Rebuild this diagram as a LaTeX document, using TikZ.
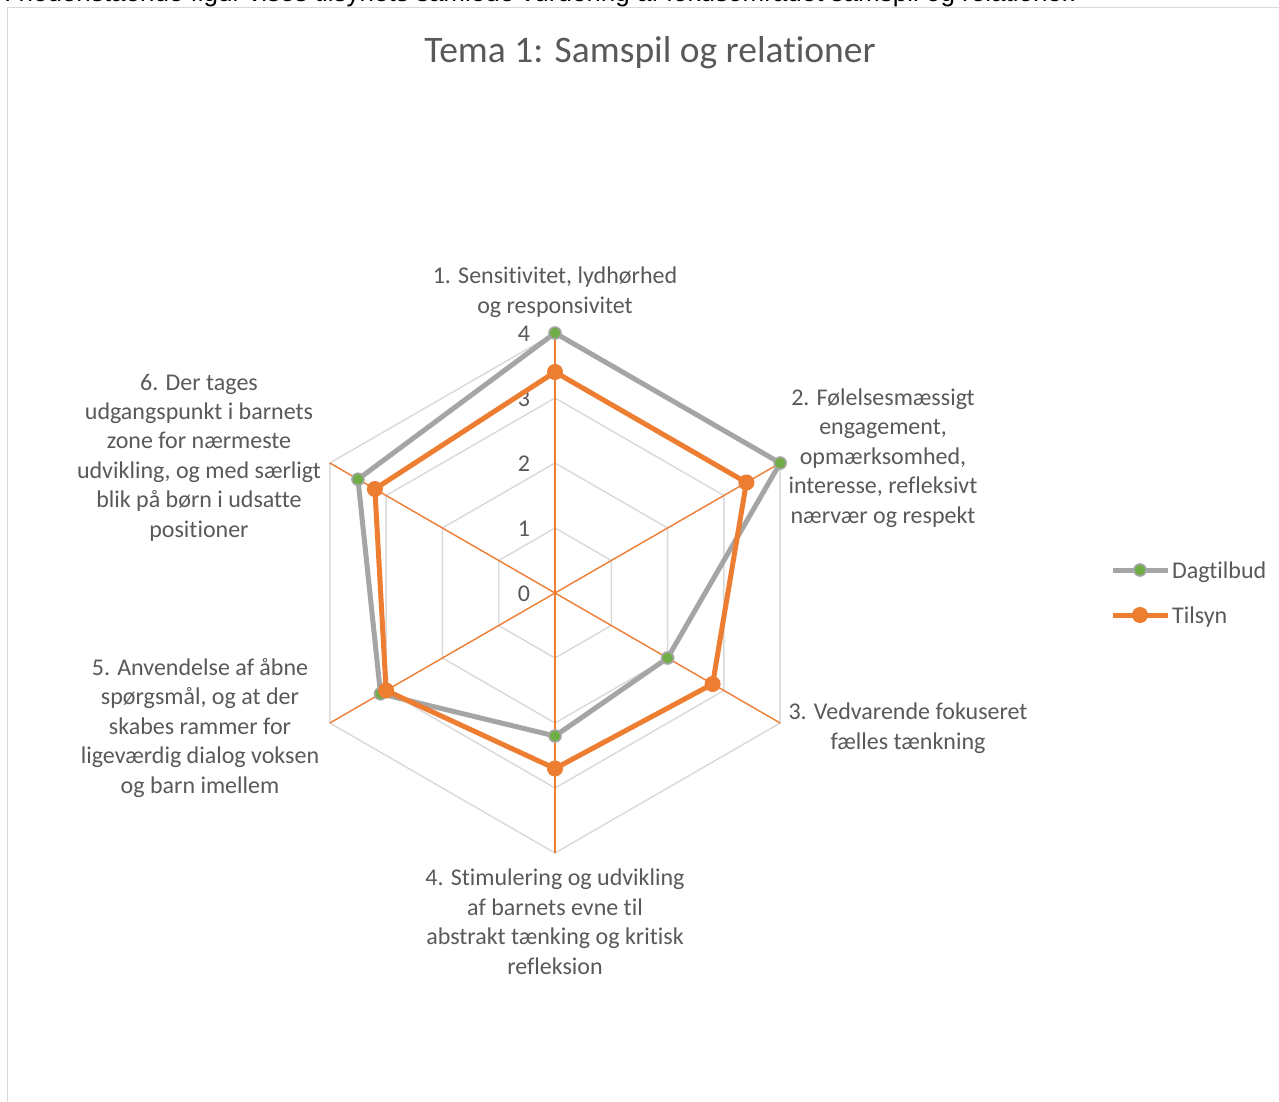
\documentclass[tikz,border=0pt]{standalone}
\usepackage{fontspec}
\setmainfont{Carlito}[Ligatures={NoCommon}]
\newfontfamily\arialfont{Liberation Sans}
\usetikzlibrary{calc}
\definecolor{txt}{HTML}{595959}
\definecolor{gridc}{HTML}{D9D9D9}
\definecolor{orng}{HTML}{ED7D31}
\definecolor{gry}{HTML}{A5A5A5}
\definecolor{grn}{HTML}{70AD47}
\begin{document}
\begin{tikzpicture}[x=1pt,y=-1pt,
  lab/.style={inner sep=0pt, outer sep=0pt, text=txt, align=center,
    font=\fontsize{24}{29.4}\selectfont, anchor=base},
  tick/.style={inner sep=0pt, text=txt, font=\fontsize{24}{29.4}\selectfont, anchor=base},
  gridline/.style={draw=gridc, line width=1.4pt},
  axisline/.style={draw=orng, line width=1.4pt},
  dagline/.style={draw=gry, line width=5pt, line join=round},
  tilline/.style={draw=orng, line width=5pt, line join=round},
  dagmark/.style={circle, fill=grn, draw=gry, line width=1.6pt, minimum size=12pt, inner sep=0pt},
  tilmark/.style={circle, fill=orng, draw=orng, line width=1pt, minimum size=15pt, inner sep=0pt},
  legtext/.style={inner sep=0pt, text=txt, font=\fontsize{24}{29.4}\selectfont, anchor=base west}
]
\useasboundingbox (0,0) rectangle (1279,1101);
\fill[white] (0,0) rectangle (1279,1101);
% cut-off intro line
\begin{scope}
\clip (0,0) rectangle (1279,1101);
\node[inner sep=0pt, anchor=base west, font=\arialfont\fontsize{26}{30}\selectfont] (intro) at (4,1.5)
  {I nedenstående figur vises tilsynets samlede vurdering af fokusområdet samspil og relationer.};
\end{scope}
% chart frame
\draw[gridc, line width=1.3pt] (7.5,1110) -- (7.5,7.5) -- (1290,7.5);
% title
\node[inner sep=0pt, anchor=base, text=txt, font=\fontsize{37.5}{45}\selectfont] (title) at (650,62) {Tema 1: Samspil og relationer};
\def\cx{555}\def\cy{593}\def\u{65}
% rings
\foreach \v in {1,2,3,4}{
  \draw[gridline] ({\cx+\u*\v*cos(90)},{\cy-\u*\v*sin(90)})
    \foreach \a in {30,-30,-90,-150,150}{ -- ({\cx+\u*\v*cos(\a)},{\cy-\u*\v*sin(\a)}) } -- cycle;
}
% axes
\coordinate (c) at (\cx,\cy);
\foreach \a [count=\i] in {90,30,-30,-90,-150,150}{
  \coordinate (v\i) at ({\cx+\u*4*cos(\a)},{\cy-\u*4*sin(\a)});
  \draw[axisline] (c) -- (v\i);
}
% tick labels
\foreach \t in {0,1,2,3,4}{
  \node[tick] (t\t) at (524,{601-65*\t}) {\t};
}
% data
\foreach \a/\d/\s [count=\i] in {90/4.0/3.4, 30/4.0/3.4, -30/2.0/2.8, -90/2.2/2.7, -150/3.1/3.0, 150/3.5/3.2}{
  \coordinate (d\i) at ({\cx+\u*\d*cos(\a)},{\cy-\u*\d*sin(\a)});
  \coordinate (s\i) at ({\cx+\u*\s*cos(\a)},{\cy-\u*\s*sin(\a)});
}
\draw[dagline] (d1) -- (d2) -- (d3) -- (d4) -- (d5) -- (d6) -- cycle;
\foreach \i in {1,...,6}{ \node[dagmark] (dm\i) at (d\i) {}; }
\draw[tilline] (s1) -- (s2) -- (s3) -- (s4) -- (s5) -- (s6) -- cycle;
\foreach \i in {1,...,6}{ \node[tilmark] (sm\i) at (s\i) {}; }
% category labels (anchored at the baseline of the last line)
\node[lab] (lab1) at (555,313) {1. Sensitivitet, lydhørhed\\og responsivitet};
\node[lab] (lab2) at (883,523) {2. Følelsesmæssigt\\engagement,\\opmærksomhed,\\interesse, refleksivt\\nærvær og respekt};
\node[lab] (lab3) at (908,749) {3. Vedvarende fokuseret\\fælles tænkning};
\node[lab] (lab4) at (555,974) {4. Stimulering og udvikling\\af barnets evne til\\abstrakt tænking og kritisk\\refleksion};
\node[lab] (lab5) at (200,793) {5. Anvendelse af åbne\\spørgsmål, og at der\\skabes rammer for\\ligeværdig dialog voksen\\og barn imellem};
\node[lab] (lab6) at (199,537) {6. Der tages\\udgangspunkt i barnets\\zone for nærmeste\\udvikling, og med særligt\\blik på børn i udsatte\\positioner};
% legend
\coordinate (la1) at (1113,570); \coordinate (lb1) at (1168,570);
\draw[dagline] (la1) -- (lb1);
\node[dagmark] (lm1) at (1140,570) {};
\node[legtext] (leg1) at (1172,578) {Dagtilbud};
\coordinate (la2) at (1113,615); \coordinate (lb2) at (1168,615);
\draw[tilline] (la2) -- (lb2);
\node[tilmark] (lm2) at (1140,615) {};
\node[legtext] (leg2) at (1172,623) {Tilsyn};
\end{tikzpicture}
\end{document}
